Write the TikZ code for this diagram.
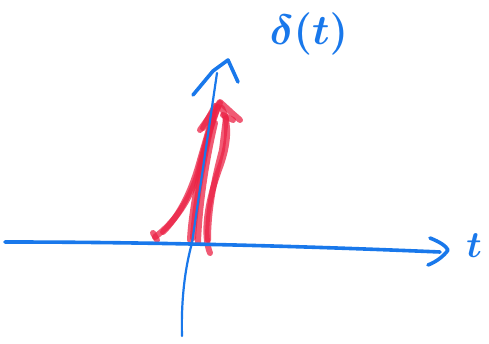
\documentclass[tikz,border=0pt]{standalone}
\begin{document}
\begin{tikzpicture}[x=1pt,y=-1pt,
  pen/.style={draw=penblue,line width=3.6pt,line cap=round,line join=round},
  thinpen/.style={draw=penblue,line width=2.2pt,line cap=round,line join=round},
  redpen/.style={draw=penred,line width=6pt,line cap=round,line join=round,opacity=0.75},
  lbl/.style={text=penblue,inner sep=0pt,font=\Huge\boldmath}]
\definecolor{penblue}{RGB}{25,120,235}
\definecolor{penred}{RGB}{235,35,70}
\useasboundingbox (0,0) rectangle (489,344);
\fill[white] (0,0) rectangle (489,344);
% red spike strokes
\draw[redpen] (155,237) .. controls (175,222) and (190,200) .. (198,173) .. controls (205,145) and (212,118) .. (220,103);
\draw[redpen] (153,233) -- (157,240);
\draw[redpen] (163,232) .. controls (180,215) and (192,190) .. (200,160) -- (214,112);
\draw[redpen] (190,240) .. controls (191,215) and (200,165) .. (210,130) -- (218,107);
\draw[redpen] (198,243) .. controls (199,210) and (205,165) .. (215,123);
\draw[redpen] (193,238) .. controls (195,205) and (203,160) .. (213,118);
\draw[redpen] (210,253) .. controls (203,235) and (206,205) .. (220,167) .. controls (228,145) and (230,125) .. (222,108);
\draw[redpen] (208,240) .. controls (208,210) and (214,180) .. (222,150) -- (226,118);
\draw[redpen] (200,130) -- (212,113) -- (220,102) -- (232,113) -- (240,120);
\draw[redpen] (203,128) -- (215,106);
\draw[redpen] (223,115) -- (233,120);
% axes
\coordinate (hl) at (5,242);
\coordinate (hr) at (440,252);
\draw[pen] (hl) .. controls (150,242) and (300,246) .. (hr);
\draw[pen] (430,238) .. controls (440,242) and (446,246) .. (448,250) .. controls (444,256) and (436,262) .. (428,265);
\coordinate (vb) at (182,336);
\coordinate (vt) at (217,73);
\draw[thinpen] (vb) .. controls (181,300) and (185,268) .. (192,243) -- (vt);
\draw[pen] (193,95) -- (213,71) -- (228,60) -- (238,82);
% labels
\node[lbl,anchor=center] (t) at (474,246) {\scalebox{1.5}{$t$}};
\node[lbl,anchor=center] (d) at (309,34) {\scalebox{1.7}{$\delta(t)$}};
\end{tikzpicture}
\end{document}
